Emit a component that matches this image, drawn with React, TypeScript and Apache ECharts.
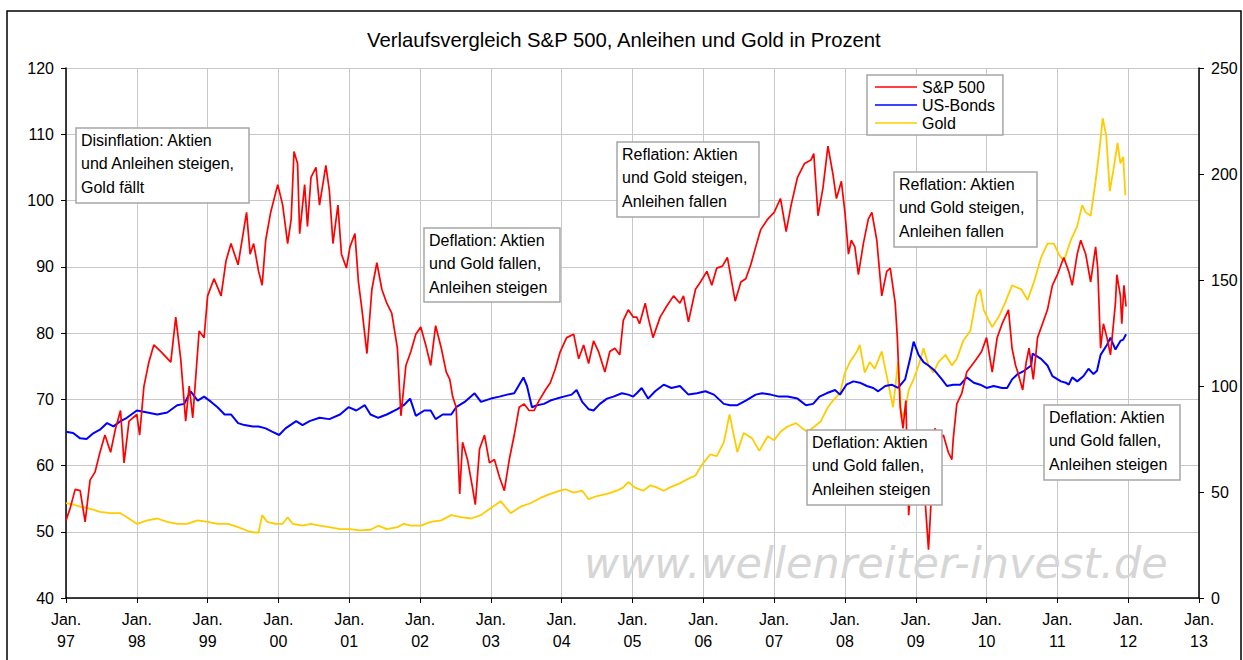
import React, { useEffect, useRef } from "react";
import * as echarts from "echarts";

// Decimal year, value (S&P 500 and US-Bonds on left axis, Gold on right axis)
const sp500: [number, number][] = [
  [1997.00,51.7],[1997.06,53.6],[1997.13,56.4],[1997.20,56.2],[1997.27,51.5],[1997.34,57.8],[1997.41,59.0],[1997.48,62.0],[1997.55,64.6],[1997.63,62.0],[1997.70,65.6],[1997.77,68.3],[1997.82,60.4],[1997.89,66.7],
  [1998.00,67.7],[1998.04,64.6],[1998.10,71.9],[1998.17,75.6],[1998.24,78.2],[1998.34,77.2],[1998.48,75.6],[1998.55,82.4],[1998.62,76.1],[1998.69,66.7],[1998.74,72.0],[1998.79,67.2],[1998.88,80.3],[1998.95,79.3],
  [1999.00,85.6],[1999.09,88.2],[1999.19,85.6],[1999.26,90.9],[1999.33,93.5],[1999.43,90.3],[1999.55,98.2],[1999.60,91.9],[1999.65,93.5],[1999.72,89.3],[1999.77,87.2],[1999.82,94.0],[1999.89,98.2],[1999.99,102.4],
  [2000.06,99.3],[2000.13,93.5],[2000.18,97.2],[2000.22,107.4],[2000.27,105.6],[2000.30,95.0],[2000.37,102.4],[2000.41,96.1],[2000.46,103.5],[2000.53,105.0],[2000.58,99.3],[2000.67,105.3],[2000.72,101.4],[2000.77,93.5],[2000.84,99.3],[2000.89,91.9],[2000.96,89.8],
  [2001.01,93.0],[2001.08,95.0],[2001.13,87.7],[2001.18,83.5],[2001.25,76.9],[2001.32,86.6],[2001.39,90.6],[2001.46,86.6],[2001.53,84.5],[2001.60,83.0],[2001.68,77.7],[2001.73,67.5],[2001.80,75.1],[2001.87,77.2],[2001.94,79.8],
  [2002.01,80.9],[2002.08,78.2],[2002.15,75.1],[2002.22,81.1],[2002.30,77.7],[2002.37,74.1],[2002.42,73.0],[2002.46,70.4],[2002.51,68.8],[2002.56,55.7],[2002.60,63.5],[2002.67,60.9],[2002.74,56.7],[2002.78,54.1],[2002.84,62.5],[2002.91,64.6],[2002.98,60.4],
  [2003.05,60.9],[2003.12,58.3],[2003.19,56.2],[2003.26,60.9],[2003.33,64.6],[2003.40,68.8],[2003.47,69.3],[2003.54,68.3],[2003.61,68.3],[2003.68,69.8],[2003.77,71.4],[2003.84,72.5],[2003.91,74.6],[2003.98,77.2],
  [2004.07,79.3],[2004.17,79.8],[2004.24,76.1],[2004.31,78.2],[2004.38,75.4],[2004.45,78.8],[2004.52,77.2],[2004.61,74.1],[2004.68,77.2],[2004.75,77.7],[2004.82,76.7],[2004.87,81.9],[2004.94,83.5],
  [2005.01,82.4],[2005.06,82.4],[2005.10,81.4],[2005.18,84.5],[2005.22,82.4],[2005.29,79.3],[2005.39,82.4],[2005.48,84.0],[2005.58,85.6],[2005.67,84.5],[2005.72,85.6],[2005.79,81.7],[2005.89,86.6],[2005.96,87.7],
  [2006.05,89.3],[2006.12,87.2],[2006.19,89.8],[2006.27,90.1],[2006.34,91.4],[2006.41,87.2],[2006.45,84.8],[2006.53,87.7],[2006.60,88.2],[2006.67,90.3],[2006.74,93.0],[2006.81,95.6],[2006.91,97.2],
  [2007.00,98.2],[2007.09,100.3],[2007.17,95.3],[2007.24,99.3],[2007.33,103.5],[2007.43,105.6],[2007.52,106.1],[2007.56,107.1],[2007.62,97.7],[2007.69,101.9],[2007.76,108.2],[2007.83,104.0],[2007.88,100.3],[2007.95,102.9],
  [2008.00,98.2],[2008.05,91.9],[2008.09,94.0],[2008.14,93.0],[2008.19,88.8],[2008.26,93.5],[2008.33,97.2],[2008.38,98.2],[2008.45,94.0],[2008.52,85.6],[2008.59,89.3],[2008.64,89.8],[2008.71,84.5],[2008.74,79.3],[2008.78,68.8],[2008.82,65.6],[2008.86,69.8],[2008.90,52.5],[2008.94,58.3],[2008.99,63.0],
  [2009.06,59.9],[2009.13,55.1],[2009.18,47.3],[2009.23,57.2],[2009.27,65.6],[2009.34,64.1],[2009.39,64.6],[2009.46,62.0],[2009.51,60.9],[2009.53,64.1],[2009.58,69.3],[2009.65,70.9],[2009.72,74.1],[2009.79,75.1],[2009.86,76.1],[2009.93,77.2],
  [2010.00,79.3],[2010.08,74.1],[2010.15,79.3],[2010.22,81.4],[2010.31,83.5],[2010.36,77.7],[2010.41,75.1],[2010.44,74.1],[2010.51,71.4],[2010.56,75.6],[2010.60,77.7],[2010.66,73.0],[2010.72,79.3],[2010.79,81.4],[2010.86,83.5],[2010.93,87.2],
  [2011.00,88.8],[2011.09,91.4],[2011.16,89.3],[2011.21,87.2],[2011.28,91.9],[2011.33,94.0],[2011.40,91.9],[2011.47,87.7],[2011.54,93.0],[2011.57,89.8],[2011.61,77.7],[2011.65,81.4],[2011.70,79.3],[2011.75,76.7],[2011.82,84.5],[2011.84,88.8],[2011.89,85.6],[2011.91,81.4],[2011.94,87.2],[2011.97,84.0]
];

const usBonds: [number, number][] = [
  [1997.00,65.1],[1997.10,64.9],[1997.20,64.1],[1997.29,64.0],[1997.39,64.9],[1997.48,65.4],[1997.58,66.4],[1997.67,65.9],[1997.77,66.7],[1997.86,67.2],
  [1998.00,68.3],[1998.15,68.0],[1998.29,67.7],[1998.43,68.0],[1998.57,69.1],[1998.67,69.3],[1998.76,71.2],[1998.86,69.8],[1998.95,70.4],
  [1999.05,69.6],[1999.14,68.8],[1999.24,67.7],[1999.33,67.7],[1999.43,66.4],[1999.52,66.1],[1999.64,65.9],[1999.72,65.9],[1999.82,65.6],[1999.91,65.1],
  [2000.01,64.6],[2000.10,65.6],[2000.25,66.7],[2000.34,66.1],[2000.44,66.7],[2000.58,67.2],[2000.72,67.0],[2000.87,67.7],[2000.99,68.8],
  [2001.10,68.3],[2001.22,69.1],[2001.30,67.7],[2001.41,67.2],[2001.53,67.7],[2001.68,68.5],[2001.77,69.1],[2001.86,70.1],[2001.94,67.5],
  [2002.06,68.3],[2002.15,68.3],[2002.22,67.0],[2002.32,67.7],[2002.44,67.7],[2002.51,68.8],[2002.63,69.6],[2002.77,70.9],[2002.86,69.6],
  [2003.00,70.1],[2003.12,70.4],[2003.23,70.7],[2003.33,70.9],[2003.46,73.3],[2003.51,72.0],[2003.58,68.8],[2003.65,69.1],[2003.75,69.3],[2003.84,69.8],[2003.93,70.1],
  [2004.03,70.4],[2004.14,70.7],[2004.21,71.4],[2004.29,69.6],[2004.38,68.5],[2004.45,68.3],[2004.54,69.3],[2004.64,70.1],[2004.73,70.4],[2004.85,70.9],[2004.94,70.7],
  [2005.01,70.4],[2005.06,70.9],[2005.13,71.7],[2005.22,70.1],[2005.32,71.2],[2005.44,72.2],[2005.55,71.7],[2005.67,72.0],[2005.79,70.7],[2005.91,70.9],
  [2006.03,71.2],[2006.15,70.7],[2006.29,69.3],[2006.38,69.1],[2006.48,69.1],[2006.60,69.8],[2006.74,70.7],[2006.83,70.9],[2006.95,70.7],
  [2007.07,70.4],[2007.19,70.4],[2007.33,70.1],[2007.45,69.1],[2007.55,69.3],[2007.64,70.4],[2007.74,70.9],[2007.86,71.4],[2007.93,70.7],
  [2008.02,72.2],[2008.12,72.7],[2008.21,72.5],[2008.31,72.0],[2008.40,71.7],[2008.47,71.2],[2008.57,72.0],[2008.66,72.2],[2008.75,71.7],[2008.85,73.0],[2008.92,76.1],[2008.97,78.7],
  [2009.04,76.7],[2009.11,75.6],[2009.18,75.1],[2009.27,74.3],[2009.37,73.0],[2009.44,72.0],[2009.53,72.2],[2009.63,72.2],[2009.72,73.3],[2009.82,72.5],[2009.91,72.2],
  [2010.00,71.7],[2010.10,72.0],[2010.22,71.7],[2010.29,71.7],[2010.36,73.0],[2010.44,73.8],[2010.53,74.3],[2010.63,75.1],[2010.65,76.9],[2010.77,76.1],[2010.86,75.1],[2010.93,73.5],
  [2011.05,72.7],[2011.12,72.5],[2011.16,72.2],[2011.21,73.3],[2011.28,72.7],[2011.37,73.5],[2011.44,74.6],[2011.51,73.8],[2011.56,74.3],[2011.61,76.7],[2011.70,78.2],[2011.75,79.3],[2011.82,77.5],[2011.89,78.8],[2011.93,79.0],[2011.97,79.8]
];

const goldValues: [number, number][] = [
  [1997.00,44.7],[1997.10,44.1],[1997.20,43.1],[1997.29,42.5],[1997.39,41.6],[1997.48,40.6],[1997.63,40.0],[1997.77,40.0],[1997.86,38.1],
  [1998.00,35.0],[1998.15,36.6],[1998.29,37.5],[1998.43,35.9],[1998.57,35.0],[1998.71,35.0],[1998.86,36.6],
  [1999.00,35.9],[1999.14,35.0],[1999.29,35.0],[1999.43,33.4],[1999.57,31.6],[1999.66,30.9],[1999.72,30.9],[1999.77,39.1],[1999.84,35.9],[1999.96,35.0],
  [2000.06,35.0],[2000.13,38.1],[2000.20,35.0],[2000.34,34.1],[2000.46,35.0],[2000.58,34.1],[2000.72,33.4],[2000.87,32.5],
  [2001.01,32.5],[2001.15,31.9],[2001.30,32.2],[2001.41,34.1],[2001.53,32.5],[2001.68,33.4],[2001.77,35.0],[2001.87,34.1],
  [2002.01,34.1],[2002.15,35.9],[2002.30,36.6],[2002.44,39.1],[2002.58,38.1],[2002.72,37.5],[2002.86,39.1],
  [2003.00,42.5],[2003.14,45.6],[2003.28,40.0],[2003.42,43.1],[2003.56,44.7],[2003.70,47.2],[2003.84,49.1],[2003.98,50.6],
  [2004.05,51.3],[2004.17,49.7],[2004.29,50.6],[2004.38,46.6],[2004.50,48.1],[2004.64,49.1],[2004.78,50.6],[2004.87,52.2],[2004.94,54.7],
  [2005.03,52.2],[2005.15,50.6],[2005.25,53.1],[2005.34,52.2],[2005.44,50.6],[2005.53,52.2],[2005.65,53.8],[2005.79,56.3],[2005.89,57.8],[2005.98,62.8],
  [2006.10,67.8],[2006.19,66.9],[2006.29,73.4],[2006.37,86.6],[2006.43,76.9],[2006.48,68.8],[2006.57,77.8],[2006.69,75.3],[2006.79,69.4],[2006.91,76.3],
  [2007.00,74.4],[2007.09,78.4],[2007.19,80.9],[2007.31,82.5],[2007.40,80.0],[2007.47,78.4],[2007.57,80.9],[2007.66,83.4],[2007.76,90.0],[2007.83,93.1],[2007.93,96.6],
  [2008.00,106.3],[2008.07,111.3],[2008.17,116.3],[2008.21,119.4],[2008.28,106.3],[2008.35,111.3],[2008.42,108.1],[2008.52,116.3],[2008.57,108.1],[2008.64,96.6],[2008.68,90.0],[2008.75,111.3],[2008.80,85.0],[2008.85,88.4],[2008.90,98.1],[2008.97,103.1],
  [2009.04,109.7],[2009.11,117.8],[2009.18,109.7],[2009.25,106.3],[2009.32,111.3],[2009.42,114.7],[2009.51,109.7],[2009.58,112.8],[2009.67,121.3],[2009.77,125.9],[2009.86,142.5],[2009.91,145.6],[2009.96,135.9],
  [2010.03,130.9],[2010.08,127.8],[2010.17,132.5],[2010.26,139.1],[2010.36,147.5],[2010.49,145.6],[2010.58,140.6],[2010.67,149.1],[2010.77,160.6],[2010.86,167.2],[2010.95,167.2],
  [2011.02,162.2],[2011.09,158.8],[2011.19,168.8],[2011.28,175.3],[2011.35,185.3],[2011.40,181.9],[2011.47,180.3],[2011.54,196.6],[2011.60,213.1],[2011.64,226.3],[2011.69,218.1],[2011.74,191.9],[2011.79,201.6],[2011.85,214.7],[2011.89,205.0],[2011.93,208.1],[2011.96,190.0]
];

const seriesNames = ["S&P 500", "US-Bonds", "Gold"];
const titleText = "Verlaufsvergleich S&P 500, Anleihen und Gold in Prozent";
const watermarkText = "www.wellenreiter-invest.de";

const annotationTexts: string[][] = [
  ["Disinflation: Aktien", "und Anleihen steigen,", "Gold fällt"],
  ["Deflation: Aktien", "und Gold fallen,", "Anleihen steigen"],
  ["Reflation: Aktien", "und Gold steigen,", "Anleihen fallen"],
  ["Reflation: Aktien", "und Gold steigen,", "Anleihen fallen"],
  ["Deflation: Aktien", "und Gold fallen,", "Anleihen steigen"],
  ["Deflation: Aktien", "und Gold fallen,", "Anleihen steigen"],
];
// box layout (pixels)
const annotationBoxes = [
  { x: 76, y: 128, w: 173, h: 75 },
  { x: 424, y: 228, w: 136, h: 74 },
  { x: 617, y: 142, w: 142, h: 75 },
  { x: 894, y: 172, w: 143, h: 75 },
  { x: 807, y: 430, w: 135, h: 75 },
  { x: 1044, y: 405, w: 136, h: 75 },
];

const FONT = '"Liberation Sans", Arial, Helvetica, sans-serif';

export default function App() {
  const ref = useRef<HTMLDivElement>(null);

  useEffect(() => {
    if (!ref.current) return;
    const chart = echarts.init(ref.current, undefined, { renderer: "svg" });

    const graphic: any[] = [
      {
        type: "rect",
        shape: { x: 7, y: 11, width: 1234, height: 700 },
        style: { fill: "none", stroke: "#000", lineWidth: 1.5 },
        silent: true,
        z: 0,
      },
      {
        type: "text",
        x: 584,
        y: 563,
        style: {
          text: watermarkText,
          fontFamily: '"DejaVu Sans", sans-serif',
          fontStyle: "italic",
          fontSize: 43,
          fill: "#d6d6d6",
          verticalAlign: "middle",
          align: "left",
        },
        silent: true,
        z: 1,
      },
    ];
    annotationBoxes.forEach((b, i) => {
      graphic.push({
        type: "rect",
        shape: { x: b.x, y: b.y, width: b.w, height: b.h },
        style: { fill: "#fff", stroke: "#a6a6a6", lineWidth: 1.5 },
        z: 10,
      });
      graphic.push({
        type: "text",
        x: b.x + 5,
        y: b.y + 0.5,
        style: {
          text: annotationTexts[i].join("\n"),
          fontFamily: FONT,
          fontSize: 16,
          lineHeight: 23.5,
          fill: "#000",
          align: "left",
          verticalAlign: "top",
        },
        z: 11,
      });
    });

    const option: any = {
      animation: false,
      backgroundColor: "#fff",
      title: {
        text: titleText,
        left: 367,
        top: 30,
        padding: 0,
        textStyle: { fontFamily: FONT, fontSize: 20.3, fontWeight: "normal", color: "#000" },
      },
      legend: {
        data: seriesNames,
        orient: "vertical",
        left: 867,
        top: 75,
        itemWidth: 42,
        itemHeight: 1.5,
        itemGap: 2,
        icon: "rect",
        padding: [4, 8, 4, 8],
        borderColor: "#a6a6a6",
        borderWidth: 1.5,
        backgroundColor: "#fff",
        selectedMode: false,
        textStyle: { fontFamily: FONT, fontSize: 16, color: "#000" },
      },
      grid: { left: 66, right: 44, top: 68, bottom: 62, containLabel: false },
      xAxis: {
        type: "value",
        min: 1997,
        max: 2013,
        interval: 1,
        axisLine: { show: true, lineStyle: { color: "#000", width: 1.5 } },
        axisTick: { show: true, length: 5, lineStyle: { color: "#000" } },
        axisLabel: {
          formatter: (v: number) => "Jan.\n" + String(Math.round(v) % 100).padStart(2, "0"),
          fontFamily: FONT,
          fontSize: 16,
          lineHeight: 22,
          color: "#000",
          margin: 10,
        },
        splitLine: { show: true, lineStyle: { color: "#c8c8c8", width: 1 } },
      },
      yAxis: [
        {
          type: "value",
          min: 40,
          max: 120,
          interval: 10,
          position: "left",
          axisLine: { show: true, lineStyle: { color: "#000", width: 1.5 } },
          axisTick: { show: true, length: 5, lineStyle: { color: "#000" } },
          axisLabel: { fontFamily: FONT, fontSize: 16, color: "#000", margin: 12 },
          splitLine: { show: true, lineStyle: { color: "#c8c8c8", width: 1 } },
        },
        {
          type: "value",
          min: 0,
          max: 250,
          interval: 50,
          position: "right",
          axisLine: { show: true, lineStyle: { color: "#000", width: 1.5 } },
          axisTick: { show: true, length: 5, lineStyle: { color: "#000" } },
          axisLabel: { fontFamily: FONT, fontSize: 16, color: "#000", margin: 12 },
          splitLine: { show: false },
        },
      ],
      series: [
        {
          name: "Gold",
          type: "line",
          yAxisIndex: 1,
          data: goldValues,
          symbol: "none",
          lineStyle: { color: "#ffcc00", width: 1.8 },
          itemStyle: { color: "#ffcc00" },
          z: 3,
        },
        {
          name: "US-Bonds",
          type: "line",
          yAxisIndex: 0,
          data: usBonds,
          symbol: "none",
          lineStyle: { color: "#0000ff", width: 2 },
          itemStyle: { color: "#0000ff" },
          z: 4,
        },
        {
          name: "S&P 500",
          type: "line",
          yAxisIndex: 0,
          data: sp500,
          symbol: "none",
          lineStyle: { color: "#ff0000", width: 1.7 },
          itemStyle: { color: "#ff0000" },
          z: 5,
        },
      ],
      graphic,
    };

    chart.setOption(option);
    return () => {
      chart.dispose();
    };
  }, []);

  return (
    <div
      ref={ref}
      style={{ position: "absolute", left: 0, top: 0, width: 1243, height: 660, background: "#fff" }}
    />
  );
}
